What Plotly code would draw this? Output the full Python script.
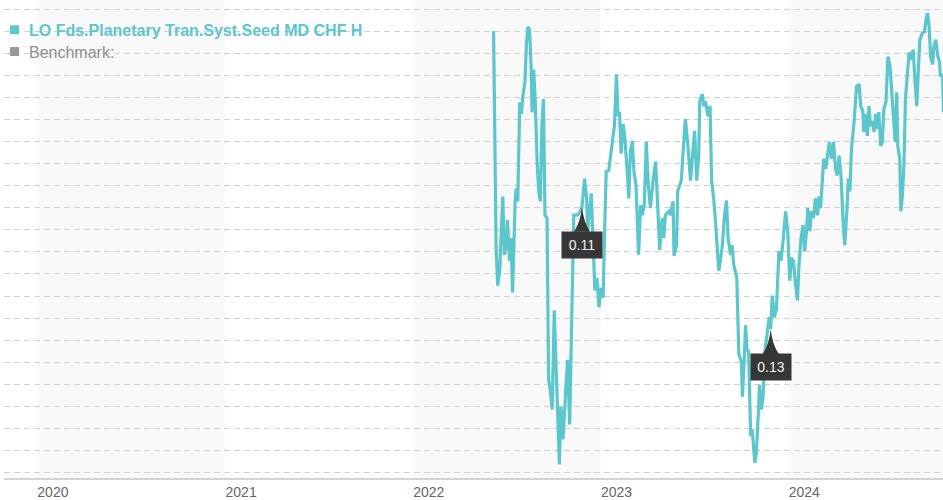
import plotly.graph_objects as go

# ---------------- data ----------------
series_name = "LO Fds.Planetary Tran.Syst.Seed MD CHF H"
benchmark_name = "Benchmark:"

dates = [
    "2022-06-07", "2022-06-12", "2022-06-15", "2022-06-19", "2022-06-22", "2022-06-25", "2022-06-28",
    "2022-07-02", "2022-07-04", "2022-07-08", "2022-07-11", "2022-07-14", "2022-07-19", "2022-07-21",
    "2022-07-24", "2022-07-28", "2022-07-31", "2022-08-03", "2022-08-07", "2022-08-10", "2022-08-13",
    "2022-08-16", "2022-08-19", "2022-08-21", "2022-08-24", "2022-08-27", "2022-08-31", "2022-09-03",
    "2022-09-06", "2022-09-09", "2022-09-12", "2022-09-15", "2022-09-19", "2022-09-22", "2022-09-26",
    "2022-09-29", "2022-10-03", "2022-10-07", "2022-10-10", "2022-10-13", "2022-10-16", "2022-10-20",
    "2022-10-25", "2022-10-29", "2022-11-02", "2022-11-05", "2022-11-08", "2022-11-10", "2022-11-17",
    "2022-11-23", "2022-11-26", "2022-12-01", "2022-12-05", "2022-12-07", "2022-12-14", "2022-12-18",
    "2022-12-21", "2022-12-25", "2022-12-29",
    "2023-01-02", "2023-01-06", "2023-01-09", "2023-01-12", "2023-01-17", "2023-01-20", "2023-01-26",
    "2023-01-28", "2023-02-01", "2023-02-04", "2023-02-07", "2023-02-10", "2023-02-14", "2023-02-17",
    "2023-02-22", "2023-02-25", "2023-02-28", "2023-03-04", "2023-03-07", "2023-03-11", "2023-03-13",
    "2023-03-16", "2023-03-20", "2023-03-23", "2023-03-27", "2023-03-31", "2023-04-04", "2023-04-08",
    "2023-04-13", "2023-04-18", "2023-04-21", "2023-04-26", "2023-05-01", "2023-05-04", "2023-05-07",
    "2023-05-14", "2023-05-17", "2023-05-22", "2023-05-24", "2023-05-29", "2023-05-31", "2023-06-07",
    "2023-06-11", "2023-06-15", "2023-06-20", "2023-06-25", "2023-06-30", "2023-07-03", "2023-07-07",
    "2023-07-11", "2023-07-13", "2023-07-18", "2023-07-21", "2023-07-24", "2023-07-29", "2023-08-02",
    "2023-08-05", "2023-08-09", "2023-08-13", "2023-08-16", "2023-08-19", "2023-08-22", "2023-08-26",
    "2023-08-30", "2023-09-03", "2023-09-06", "2023-09-11", "2023-09-14", "2023-09-17", "2023-09-23",
    "2023-09-25", "2023-09-27", "2023-10-02", "2023-10-04", "2023-10-07", "2023-10-10", "2023-10-13",
    "2023-10-16", "2023-10-20", "2023-10-23", "2023-10-28", "2023-10-31", "2023-11-04", "2023-11-06",
    "2023-11-10", "2023-11-13", "2023-11-17", "2023-11-21", "2023-11-25", "2023-11-28", "2023-12-01",
    "2023-12-05", "2023-12-09", "2023-12-14", "2023-12-18", "2023-12-22", "2023-12-27", "2023-12-31",
    "2024-01-04", "2024-01-07", "2024-01-11", "2024-01-15", "2024-01-19", "2024-01-22", "2024-01-26",
    "2024-01-30", "2024-02-02", "2024-02-06", "2024-02-08", "2024-02-12", "2024-02-15", "2024-02-19",
    "2024-02-23", "2024-02-27", "2024-03-01", "2024-03-04", "2024-03-07", "2024-03-10", "2024-03-14",
    "2024-03-17", "2024-03-21", "2024-03-25", "2024-03-29", "2024-04-02", "2024-04-05", "2024-04-09",
    "2024-04-13", "2024-04-17", "2024-04-20", "2024-04-24", "2024-04-27", "2024-04-30", "2024-05-03",
    "2024-05-08", "2024-05-13", "2024-05-18", "2024-05-21", "2024-05-25", "2024-05-27", "2024-05-31",
    "2024-06-03", "2024-06-06", "2024-06-09", "2024-06-13", "2024-06-16", "2024-06-19", "2024-06-22",
    "2024-06-25", "2024-06-29", "2024-07-02", "2024-07-05", "2024-07-09", "2024-07-13", "2024-07-17",
    "2024-07-20", "2024-07-23", "2024-07-27", "2024-07-30", "2024-08-01", "2024-08-05", "2024-08-07",
    "2024-08-10", "2024-08-13", "2024-08-16", "2024-08-20", "2024-08-23", "2024-08-27", "2024-08-31",
    "2024-09-03", "2024-09-07", "2024-09-10", "2024-09-13", "2024-09-18", "2024-09-22", "2024-09-25",
    "2024-09-28", "2024-10-01", "2024-10-04", "2024-10-08", "2024-10-10", "2024-10-14", "2024-10-18",
    "2024-10-21", "2024-10-23", "2024-10-27", "2024-10-29",
]

nav = [
    100.00, 90.18, 88.47, 89.15, 90.94, 92.51, 89.87,
    90.31, 91.44, 89.60, 90.63, 88.16, 92.29, 92.87,
    92.29, 96.78, 96.24, 97.05, 97.68, 99.47, 100.19,
    100.06, 98.40, 96.33, 98.26, 96.92, 93.91, 92.74,
    92.29, 95.70, 96.92, 91.66, 91.53, 84.27, 83.59,
    82.86, 87.35, 84.49, 82.10, 80.39, 83.00, 81.51,
    83.59, 85.11, 82.19, 85.91, 88.98, 91.67, 91.67,
    91.84, 92.05, 93.32, 92.42, 90.94, 92.65, 89.60,
    88.25, 88.83, 87.49,
    88.38, 87.93, 90.94, 93.64, 93.68, 94.22, 95.12,
    95.70, 98.04, 96.15, 96.33, 94.45, 95.79, 95.25,
    93.64, 92.42, 94.54, 95.03, 93.64, 93.01, 91.84,
    89.87, 92.11, 91.66, 92.11, 94.98, 93.01, 91.98,
    93.19, 94.09, 92.74, 90.09, 91.53, 90.63, 91.66,
    91.84, 91.66, 92.29, 89.82, 90.31, 92.74, 93.23,
    94.67, 96.02, 94.80, 93.23, 94.67, 95.48, 93.23,
    94.36, 96.83, 97.14, 96.60, 96.83, 96.15, 96.60,
    93.23, 92.42, 91.21, 89.87, 89.15, 89.60, 90.31,
    91.66, 92.33, 90.63, 89.87, 90.31, 89.42, 88.83,
    86.95, 85.37, 85.02, 83.44, 84.93, 86.68, 85.55,
    85.50, 81.65, 81.96, 80.44, 80.88, 82.77, 83.98,
    82.86, 83.44, 85.55, 86.45, 87.04, 86.51, 88.02,
    87.04, 87.40, 90.04, 89.60, 90.49, 91.84, 90.94,
    88.70, 89.73, 89.60, 88.61, 87.80, 89.42, 90.63,
    91.21, 90.04, 91.08, 91.98, 90.94, 91.84, 91.53,
    92.42, 91.66, 92.51, 91.98, 92.87, 94.22, 93.77,
    94.36, 94.98, 94.22, 94.98, 93.77, 93.46, 94.36,
    93.32, 91.21, 90.31, 91.84, 93.32, 92.74, 94.67,
    95.88, 97.50, 97.59, 96.60, 96.38, 95.43, 96.24,
    95.25, 96.60, 95.70, 95.93, 95.43, 96.24, 95.57,
    96.33, 94.80, 94.98, 96.47, 96.78, 98.85, 98.40,
    97.36, 96.15, 94.98, 97.23, 94.80, 94.22, 91.84,
    92.56, 93.91, 96.92, 98.13, 99.03, 98.71, 99.16,
    97.95, 96.60, 98.26, 99.61, 99.92, 99.97, 100.51,
    100.82, 100.19, 98.85, 98.49, 99.29, 99.61, 98.85,
    98.62, 97.95, 98.04, 96.33,
]

# distribution markers (date on the series, amount shown in the label)
dist_dates = ["2022-11-26", "2023-11-28"]
dist_amounts = [0.11, 0.13]

tick_years = [2020, 2021, 2022, 2023, 2024]
shaded_years = [2020, 2022, 2024]

x_range = ["2019-10-29", "2024-10-28"]
y_range = [79.76, 101.41]

# ---------------- styling ----------------
TEAL = "#5CC6CD"
FONT = "Liberation Sans, Arial, sans-serif"
W, H = 943, 500
M = dict(l=4, r=0, t=0, b=18)
PW, PH = W - M["l"] - M["r"], H - M["t"] - M["b"]


def px_x(p):
    return (p - M["l"]) / PW


def px_y(p):
    return 1 - (p - M["t"]) / PH


fig = go.Figure()
fig.add_trace(go.Scatter(
    x=dates, y=nav, mode="lines",
    line=dict(color=TEAL, width=3.2),
    name=series_name, showlegend=False, hoverinfo="x+y",
))

shapes = []
for yr in shaded_years:
    shapes.append(dict(
        type="rect", xref="x", yref="paper",
        x0=f"{yr}-01-01", x1=f"{yr + 1}-01-01", y0=0, y1=1,
        fillcolor="rgba(238,238,238,0.33)", line=dict(width=0), layer="between",
    ))

annotations = []
lookup = dict(zip(dates, nav))
for d, amt in zip(dist_dates, dist_amounts):
    v = lookup[d]
    shapes.append(dict(
        type="path", xref="x", yref="y",
        xsizemode="pixel", ysizemode="pixel", xanchor=d, yanchor=v,
        path="M 0 0 Q 1.5 -15 8 -25 L -8 -25 Q -1.5 -15 0 0 Z",
        fillcolor="#373737", line=dict(width=0), layer="above",
    ))
    annotations.append(dict(
        x=d, y=v, xref="x", yref="y", text=f"{amt:.2f}", showarrow=False,
        yanchor="top", yshift=-24, bgcolor="#373737", borderpad=5,
        width=30, height=16,
        font=dict(color="#f2f2f2", size=14, family=FONT),
    ))

# legend (drawn as text + swatches)
legend_items = [(series_name, TEAL, True, 30), (benchmark_name, "#999999", False, 52)]
for name, col, bold, cy in legend_items:
    shapes.append(dict(
        type="rect", xref="paper", yref="paper",
        x0=px_x(10), x1=px_x(19), y0=px_y(cy + 4.5), y1=px_y(cy - 4.5),
        fillcolor=col, line=dict(width=0), layer="above",
    ))
    annotations.append(dict(
        x=px_x(27), y=px_y(cy + 1), xref="paper", yref="paper",
        xanchor="left", yanchor="middle", showarrow=False,
        text=f"<b>{name}</b>" if bold else name,
        font=dict(color=col if bold else "#8f8f8f", size=16, family=FONT),
    ))

fig.update_layout(
    width=W, height=H, margin=M,
    paper_bgcolor="white", plot_bgcolor="white",
    font=dict(family=FONT),
    showlegend=False,
    shapes=shapes, annotations=annotations,
    xaxis=dict(
        type="date", range=x_range,
        tickvals=[f"{y}-01-01" for y in tick_years],
        ticktext=[str(y) for y in tick_years],
        ticklabelshift=16, ticks="", showgrid=False, zeroline=False,
        showline=True, linecolor="#d4d4d4", linewidth=2,
        tickfont=dict(size=14, color="#666666", family=FONT),
    ),
    yaxis=dict(
        range=y_range, tick0=80, dtick=1, showticklabels=False, ticks="",
        showgrid=True, gridcolor="#d2d2d2", gridwidth=1, griddash="6px,4px",
        zeroline=False, showline=False,
    ),
)

fig.write_html(
    "out.html",
    config={"displayModeBar": False},
    post_script="document.body.style.margin='0px';document.body.style.overflow='hidden';",
)
